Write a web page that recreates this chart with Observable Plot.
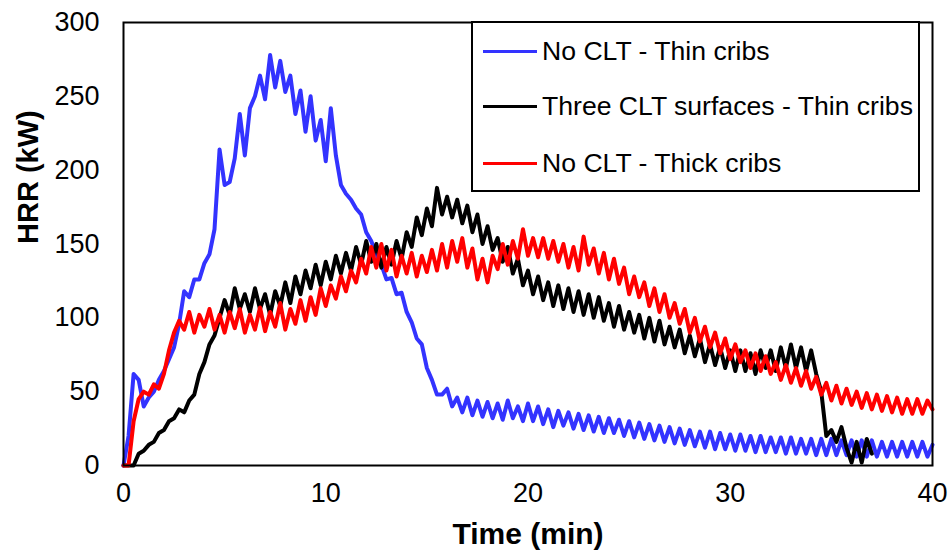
<!DOCTYPE html>
<html>
<head>
<meta charset="utf-8">
<script src="https://cdn.jsdelivr.net/npm/d3@7"></script>
<script src="https://cdn.jsdelivr.net/npm/@observablehq/plot@0.6"></script>
<style>
  html, body { margin: 0; padding: 0; background: #fff; }
  #wrap { position: relative; width: 951px; height: 557px; font-family: "Liberation Sans", Arial, sans-serif; }
  #legend {
    position: absolute; left: 471px; top: 21px; width: 445px; height: 167px;
    border: 2px solid #000; background: #fff; box-sizing: content-box;
  }
  .item { position: absolute; left: 10px; display: flex; align-items: center; font-size: 26.6px; color: #000; white-space: nowrap; }
  .swatch { width: 54px; height: 3px; margin-right: 5px; }
</style>
</head>
<body>
<div id="wrap"></div>
<script>
// Heat release rate (kW) sampled every 0.25 min
const step = 0.25;

const noCltThin = [
  0, 20, 62, 58, 40, 46, 50, 58, 64, 72, 80, 96, 118, 114, 126, 126,
  137, 143, 160, 214, 190, 192, 208, 238, 210, 242, 250, 264, 248, 278, 256, 274,
  253, 264, 238, 254, 226, 250, 220, 234, 206, 242, 210, 190, 184, 180, 174, 170,
  158, 152, 143, 136, 126, 127, 116, 117, 104, 97, 86, 82, 66, 58, 48, 48,
  52, 40, 46, 36, 46, 34, 44, 33, 43, 32, 42, 31, 44, 32, 40, 30,
  42, 30, 40, 28, 38, 26, 37, 27, 36, 25, 35, 24, 34, 23, 33, 22,
  32, 22, 31, 20, 30, 19, 29, 18, 28, 17, 27, 16, 26, 15, 25, 14,
  24, 13, 23, 12, 23, 11, 22, 11, 21, 10, 21, 10, 20, 9, 20, 9,
  19, 9, 19, 8, 19, 8, 18, 8, 18, 7, 18, 7, 18, 7, 17, 7,
  17, 6, 17, 6, 17, 6, 16, 6, 16, 6, 16, 6, 16, 6, 16, 6, 14
];

const threeCltThin = [
  0, 0, 0, 8, 10, 14, 16, 22, 24, 30, 32, 38, 36, 44, 48, 62,
  70, 82, 88, 100, 112, 102, 120, 106, 116, 104, 120, 106, 116, 102, 118, 108,
  124, 110, 128, 116, 132, 120, 136, 122, 138, 126, 142, 130, 144, 132, 148, 136,
  152, 138, 150, 134, 148, 136, 152, 140, 158, 148, 168, 156, 174, 162, 188, 170,
  182, 168, 180, 164, 176, 158, 170, 150, 162, 146, 154, 138, 148, 130, 140, 122,
  132, 116, 128, 112, 124, 108, 122, 106, 120, 104, 118, 102, 116, 100, 114, 98,
  110, 94, 108, 92, 104, 90, 102, 86, 100, 84, 98, 82, 94, 80, 92, 76,
  88, 74, 86, 70, 82, 68, 80, 66, 78, 64, 78, 64, 76, 62, 78, 66,
  78, 64, 80, 66, 82, 66, 80, 64, 78, 62, 50, 20, 24, 16, 26, 12,
  2, 16, 2, 18, 8
];

const noCltThick = [
  0, 0, 30, 45, 50, 48, 55, 52, 62, 78, 90, 98, 92, 104, 90, 102,
  94, 106, 92, 102, 90, 104, 93, 106, 90, 102, 92, 107, 91, 104, 94, 110,
  92, 106, 96, 112, 98, 114, 102, 120, 108, 122, 113, 128, 118, 132, 124, 140,
  130, 148, 134, 150, 132, 146, 128, 142, 130, 144, 128, 142, 131, 146, 132, 150,
  134, 152, 138, 154, 134, 147, 126, 140, 124, 142, 133, 150, 136, 152, 140, 160,
  142, 154, 141, 154, 140, 152, 138, 150, 134, 148, 132, 155, 136, 147, 130, 144,
  126, 140, 123, 134, 116, 128, 114, 124, 108, 120, 104, 116, 100, 110, 96, 106,
  90, 100, 84, 94, 80, 90, 76, 86, 72, 82, 70, 78, 66, 76, 64, 74,
  62, 70, 58, 68, 56, 66, 54, 64, 52, 60, 48, 56, 44, 54, 42, 52,
  41, 50, 39, 49, 38, 48, 37, 47, 36, 46, 35, 45, 35, 45, 35, 44, 38
];

const seriesNames = ["No CLT - Thin cribs", "Three CLT surfaces - Thin cribs", "No CLT - Thick cribs"];
const seriesColors = ["#3333FF", "#000000", "#FF0000"];
const xTicks = [0, 10, 20, 30, 40];
const yTicks = [0, 50, 100, 150, 200, 250, 300];

const toRows = (values, name) => values.map((v, i) => ({time: i * step, hrr: v, name}));
const rows = [
  ...toRows(noCltThin, seriesNames[0]),
  ...toRows(threeCltThin, seriesNames[1]),
  ...toRows(noCltThick, seriesNames[2])
];

const chart = Plot.plot({
  width: 951,
  height: 557,
  marginLeft: 123,
  marginRight: 19,
  marginTop: 22,
  marginBottom: 92,
  style: {fontFamily: "'Liberation Sans', Arial, sans-serif", background: "#fff"},
  x: {domain: [0, 40]},
  y: {domain: [0, 300]},
  color: {domain: seriesNames, range: seriesColors},
  marks: [
    Plot.line(rows, {x: "time", y: "hrr", z: "name", stroke: "name", strokeWidth: 4, strokeLinejoin: "round", strokeLinecap: "round"}),
    Plot.frame({stroke: "#000", strokeWidth: 2}),
    Plot.axisX({ticks: xTicks, tickSize: 0, tickPadding: 17, fontSize: 27, label: null, tickFormat: d3.format("d")}),
    Plot.axisY({ticks: yTicks, tickSize: 0, tickPadding: 24, fontSize: 27, label: null, tickFormat: d3.format("d")}),
    Plot.text(["Time (min)"], {frameAnchor: "bottom", dy: 78, fontSize: 30, fontWeight: "bold"}),
    Plot.text(["HRR (kW)"], {frameAnchor: "left", dx: -95, rotate: -90, fontSize: 29, fontWeight: "bold"})
  ]
});

const wrap = document.getElementById("wrap");
wrap.appendChild(chart);

// Legend box inside the plot area
const legend = document.createElement("div");
legend.id = "legend";
const tops = [28, 83, 140];
seriesNames.forEach((name, i) => {
  const item = document.createElement("div");
  item.className = "item";
  item.style.top = (tops[i] - 15) + "px";
  const sw = document.createElement("span");
  sw.className = "swatch";
  sw.style.background = seriesColors[i];
  const label = document.createElement("span");
  label.textContent = name;
  item.append(sw, label);
  legend.appendChild(item);
});
wrap.appendChild(legend);
</script>
</body>
</html>
